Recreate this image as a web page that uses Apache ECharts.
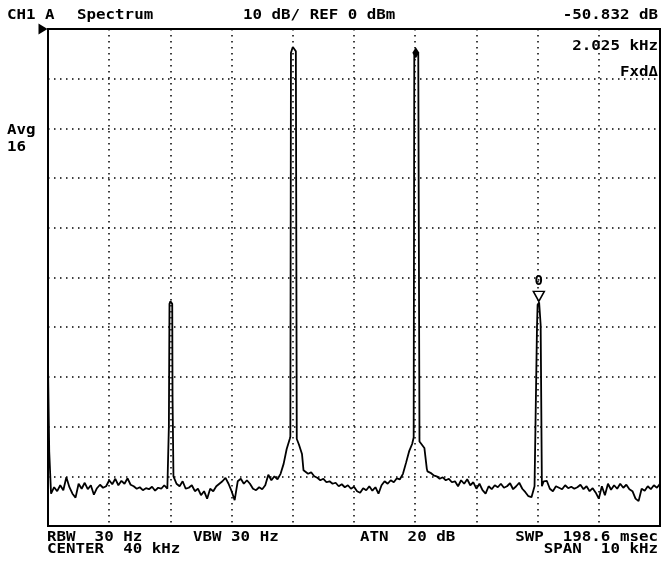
<!DOCTYPE html>
<html>
<head>
<meta charset="utf-8">
<script src="https://cdn.jsdelivr.net/npm/echarts@6/dist/echarts.min.js"></script>
<style>
  html, body { margin: 0; padding: 0; background: #fff; }
  #chart { width: 661px; height: 561px; }
</style>
</head>
<body>
<div id="chart"></div>
<script>
// sweep: 35 kHz .. 45 kHz, one reading every 0.05 kHz (dBm)
const freqStart = 35;
const freqStep = 0.05;
const traceLevels = [
  -67.5, -93.5, -92.2, -93.0, -91.8, -92.8, -90.2, -92.2, -93.5, -94.3,
  -91.5, -92.5, -91.3, -92.6, -91.8, -93.7, -92.4, -91.7, -92.3, -92.0,
  -90.8, -91.6, -90.5, -91.8, -90.9, -91.5, -90.4, -91.7, -92.0, -92.5,
  -92.2, -92.8, -92.4, -92.6, -92.1, -92.9, -92.3, -92.5, -91.8, -92.5,
  -54.8, -90.0, -91.5, -92.0, -91.0, -92.5, -92.3, -91.8, -93.0, -92.5,
  -93.8, -93.0, -94.5, -92.5, -93.0, -92.0, -91.5, -91.0, -90.3, -91.5,
  -93.0, -94.8, -91.0, -90.5, -91.5, -90.8, -91.5, -92.5, -92.8, -92.2,
  -92.6, -91.8, -89.7, -90.8, -90.0, -90.6, -89.5, -87.5, -84.5, -82.5,
  -3.6, -4.5, -83.6, -85.5, -89.0, -89.5, -89.2, -90.0, -90.3, -90.8,
  -90.5, -91.2, -91.0, -91.5, -91.3, -92.0, -91.6, -92.2, -91.8, -92.5,
  -92.1, -93.0, -93.3, -92.4, -92.8, -92.0, -92.9, -92.2, -93.5, -91.8,
  -91.0, -91.5, -90.8, -91.2, -90.4, -90.6, -89.5, -87.3, -85.0, -83.5,
  -4.5, -4.8, -83.4, -84.3, -89.0, -89.3, -89.8, -90.0, -90.5, -90.2,
  -90.8, -90.5, -91.2, -91.0, -92.0, -90.8, -91.5, -90.6, -91.8, -91.2,
  -92.5, -91.5, -92.8, -93.5, -92.0, -92.6, -91.8, -92.2, -91.5, -92.3,
  -92.0, -91.4, -92.6, -92.0, -91.3, -92.5, -93.2, -94.0, -94.2, -92.0,
  -55.5, -59.5, -91.0, -90.9, -92.5, -93.0, -92.0, -92.3, -92.6, -91.8,
  -92.4, -92.1, -92.5, -92.2, -91.7, -92.6, -92.0, -93.0, -92.4, -93.3,
  -94.5, -92.0, -93.8, -91.5, -92.7, -91.8, -92.5, -91.5, -92.3, -91.7,
  -92.6, -93.0, -94.5, -95.0, -92.5, -92.9, -92.0, -92.6, -91.8, -92.3, -91.5
];
// extra readings on the narrow carriers [kHz, dBm]
const peakDetail = [
  [35.02, -85.0],
  [36.975, -80.0], [36.985, -55.3], [37.03, -55.3], [37.035, -74.2],
  [38.96, -82.0], [38.97, -4.8], [39.025, -4.0], [39.065, -82.5], [39.175, -88.8],
  [40.975, -82.2], [40.985, -5.0], [41.03, -4.3], [41.07, -83.0], [41.19, -88.5],
  [42.99, -60.0], [43.025, -55.0], [43.07, -92.0]
];
// markers: active marker, fixed reference marker 0
const markerFreqs = [41.01, 43.02];
const markerLevels = [-4.8, -55.0];
const refLevel = 0;

const headerLeft = ['CH1', 'A', 'Spectrum'];
const headerMid = '10 dB/ REF 0 dBm';
const readout = ['-50.832 dB', '2.025 kHz', 'FxdΔ'];
const avgText = ['Avg', '16'];
const footer = ['RBW  30 Hz', 'VBW 30 Hz', 'ATN  20 dB', 'SWP  198.6 msec', 'CENTER  40 kHz', 'SPAN  10 kHz'];

const trace = traceLevels
  .map((v, i) => [+(freqStart + i * freqStep).toFixed(3), v])
  .concat(peakDetail)
  .sort((a, b) => a[0] - b[0]);

const FONT = 'bold 14px "DejaVu Sans Mono"';
const SX = 1.13;
function txt(x, y, text, align) {
  return {
    type: 'text', x: x, y: y, scaleX: SX, silent: true,
    style: { text: text, x: 0, y: 0, font: FONT, fill: '#000', align: align || 'left', verticalAlign: 'middle' }
  };
}

const chart = echarts.init(document.getElementById('chart'));
const dotted = { color: '#000', width: 1.5, type: [1.5, 4.5] };

chart.setOption({
  animation: false,
  backgroundColor: '#fff',
  grid: { left: 48, right: 1, top: 29, bottom: 35, show: true, borderColor: '#000', borderWidth: 2 },
  xAxis: {
    type: 'value', min: 35, max: 45, interval: 1,
    axisLine: { show: false }, axisTick: { show: false }, axisLabel: { show: false },
    splitLine: { show: true, lineStyle: dotted }
  },
  yAxis: {
    type: 'value', min: -100, max: 0, interval: 10,
    axisLine: { show: false }, axisTick: { show: false }, axisLabel: { show: false },
    splitLine: { show: true, lineStyle: dotted }
  },
  series: [{
    type: 'line',
    data: trace,
    showSymbol: false,
    sampling: null,
    lineStyle: { color: '#000', width: 1.8 },
    markPoint: {
      silent: true,
      data: [
        { coord: [markerFreqs[0], markerLevels[0]], symbol: 'diamond', symbolSize: [7, 11],
          itemStyle: { color: '#000' }, label: { show: false } },
        { coord: [markerFreqs[1], markerLevels[1]], symbol: 'triangle', symbolRotate: 180,
          symbolSize: [11, 10], symbolOffset: [0, -6],
          itemStyle: { color: '#fff', borderColor: '#000', borderWidth: 1.5 },
          label: { show: true, position: 'top', distance: 2, formatter: '0', color: '#000',
            fontFamily: 'DejaVu Sans Mono', fontSize: 14, fontWeight: 'bold' } },
        { coord: [freqStart, refLevel], symbol: 'triangle', symbolRotate: -90,
          symbolSize: [11, 9], symbolOffset: [-5, 0],
          itemStyle: { color: '#000' }, label: { show: false } }
      ]
    }
  }],
  graphic: [
    txt(7, 15, headerLeft[0]),
    txt(45, 15, headerLeft[1]),
    txt(77, 15, headerLeft[2]),
    txt(243, 15, headerMid),
    txt(658, 15, readout[0], 'right'),
    txt(658, 46, readout[1], 'right'),
    txt(658, 72, readout[2], 'right'),
    txt(7, 130, avgText[0]),
    txt(7, 147, avgText[1]),
    txt(47, 537, footer[0]),
    txt(193, 537, footer[1]),
    txt(360, 537, footer[2]),
    txt(658, 537, footer[3], 'right'),
    txt(47, 549, footer[4]),
    txt(658, 549, footer[5], 'right')
  ]
});
</script>
</body>
</html>
